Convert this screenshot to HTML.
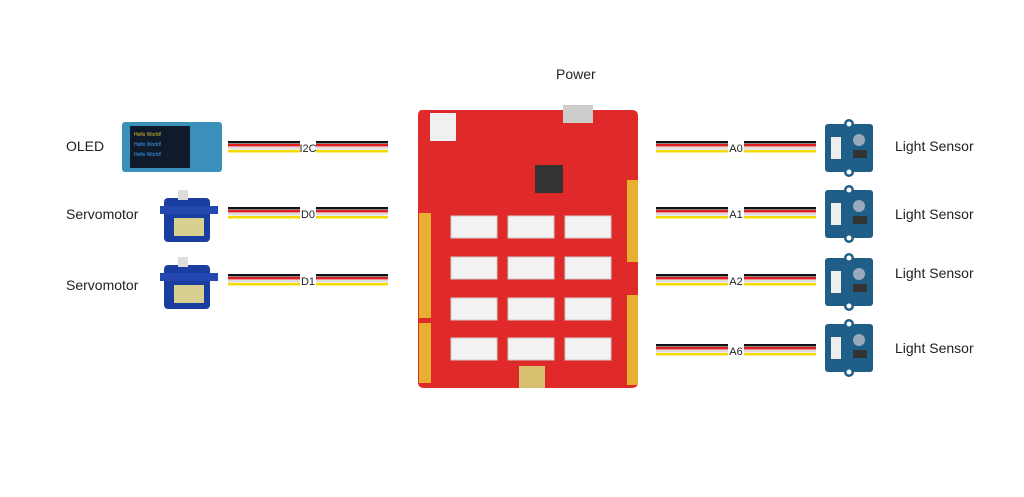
<!DOCTYPE html>
<html><head><style>
body{margin:0;width:1024px;height:497px;background:#fff;position:relative;overflow:hidden;font-family:"Liberation Sans",sans-serif;}
.t{position:absolute;font-size:14px;color:#222;}
</style></head><body>
<div class="t" style="left:66px;top:138px">OLED</div>
<div class="t" style="left:66px;top:206px">Servomotor</div>
<div class="t" style="left:66px;top:277px">Servomotor</div>
<div class="t" style="left:895px;top:138px">Light Sensor</div>
<div class="t" style="left:895px;top:206px">Light Sensor</div>
<div class="t" style="left:895px;top:265px">Light Sensor</div>
<div class="t" style="left:895px;top:340px">Light Sensor</div>
<div class="t" style="left:556px;top:66px">Power</div>
<svg width="1024" height="497" style="position:absolute;left:0;top:0" font-family="Liberation Sans" >
<defs>
<g id="cab">
<rect x="0" y="0" width="72" height="2.5" fill="#111"/><rect x="0" y="3" width="72" height="2.5" fill="#e02020"/><rect x="0" y="6" width="72" height="2.5" fill="#ddd"/><rect x="0" y="9" width="72" height="2.5" fill="#f5d800"/>
<rect x="88" y="0" width="72" height="2.5" fill="#111"/><rect x="88" y="3" width="72" height="2.5" fill="#e02020"/><rect x="88" y="6" width="72" height="2.5" fill="#ddd"/><rect x="88" y="9" width="72" height="2.5" fill="#f5d800"/>
</g>
<g id="ls">
<rect x="0" y="0" width="48" height="48" rx="3" fill="#1f5e86"/>
<circle cx="24" cy="0" r="5" fill="#1f5e86"/><circle cx="24" cy="0" r="2.5" fill="#fff"/>
<circle cx="24" cy="48" r="5" fill="#1f5e86"/><circle cx="24" cy="48" r="2.5" fill="#fff"/>
<rect x="6" y="13" width="10" height="22" fill="#eee"/>
<circle cx="34" cy="16" r="6" fill="#9ab"/>
<rect x="28" y="26" width="14" height="8" fill="#333"/>
</g>
<g id="srv">
<rect x="4" y="10" width="46" height="44" rx="4" fill="#1a3ea0"/>
<rect x="0" y="18" width="58" height="8" fill="#2448b0"/>
<rect x="18" y="2" width="10" height="10" fill="#ddd"/>
<rect x="14" y="30" width="30" height="18" fill="#d8cf90"/>
</g>
</defs>
<g transform="translate(228,141)"><use href="#cab"/><text x="80" y="11" font-size="11" text-anchor="middle" fill="#222">I2C</text></g>
<g transform="translate(228,207)"><use href="#cab"/><text x="80" y="11" font-size="11" text-anchor="middle" fill="#222">D0</text></g>
<g transform="translate(228,274)"><use href="#cab"/><text x="80" y="11" font-size="11" text-anchor="middle" fill="#222">D1</text></g>
<g transform="translate(656,141)"><use href="#cab"/><text x="80" y="11" font-size="11" text-anchor="middle" fill="#222">A0</text></g>
<g transform="translate(656,207)"><use href="#cab"/><text x="80" y="11" font-size="11" text-anchor="middle" fill="#222">A1</text></g>
<g transform="translate(656,274)"><use href="#cab"/><text x="80" y="11" font-size="11" text-anchor="middle" fill="#222">A2</text></g>
<g transform="translate(656,344)"><use href="#cab"/><text x="80" y="11" font-size="11" text-anchor="middle" fill="#222">A6</text></g>
<!-- OLED -->
<rect x="122" y="122" width="100" height="50" rx="3" fill="#3a90b8"/>
<rect x="130" y="126" width="60" height="42" fill="#0f1a2a"/>
<text x="134" y="136" font-size="5" fill="#e0c030">Hello World!</text>
<text x="134" y="146" font-size="5" fill="#40a0ff">Hello World!</text>
<text x="134" y="156" font-size="5" fill="#40a0ff">Hello World!</text>
<g transform="translate(160,188)"><use href="#srv"/></g>
<g transform="translate(160,255)"><use href="#srv"/></g>
<g transform="translate(825,124)"><use href="#ls"/></g>
<g transform="translate(825,190)"><use href="#ls"/></g>
<g transform="translate(825,258)"><use href="#ls"/></g>
<g transform="translate(825,324)"><use href="#ls"/></g>
<!-- board -->
<path d="M422 110 H632 Q638 110 638 116 V382 Q638 388 632 388 H424 Q418 388 418 382 V116 Q418 110 422 110Z" fill="#e02a2a"/>
<rect x="563" y="105" width="30" height="18" fill="#ccc"/>
<rect x="430" y="113" width="26" height="28" fill="#f0f0f0"/>
<rect x="535" y="165" width="28" height="28" fill="#333"/>
<rect x="419" y="213" width="12" height="105" fill="#e8b030"/>
<rect x="419" y="323" width="12" height="60" fill="#e8b030"/>
<rect x="627" y="180" width="11" height="82" fill="#e8b030"/>
<rect x="627" y="295" width="11" height="90" fill="#e8b030"/>
<rect x="519" y="366" width="26" height="22" fill="#d8c070"/>
<g fill="#f2f2f2" stroke="#ccc">
<rect x="451" y="216" width="46" height="22"/><rect x="508" y="216" width="46" height="22"/><rect x="565" y="216" width="46" height="22"/>
<rect x="451" y="257" width="46" height="22"/><rect x="508" y="257" width="46" height="22"/><rect x="565" y="257" width="46" height="22"/>
<rect x="451" y="298" width="46" height="22"/><rect x="508" y="298" width="46" height="22"/><rect x="565" y="298" width="46" height="22"/>
<rect x="451" y="338" width="46" height="22"/><rect x="508" y="338" width="46" height="22"/><rect x="565" y="338" width="46" height="22"/>
</g>
</svg>
</body></html>
